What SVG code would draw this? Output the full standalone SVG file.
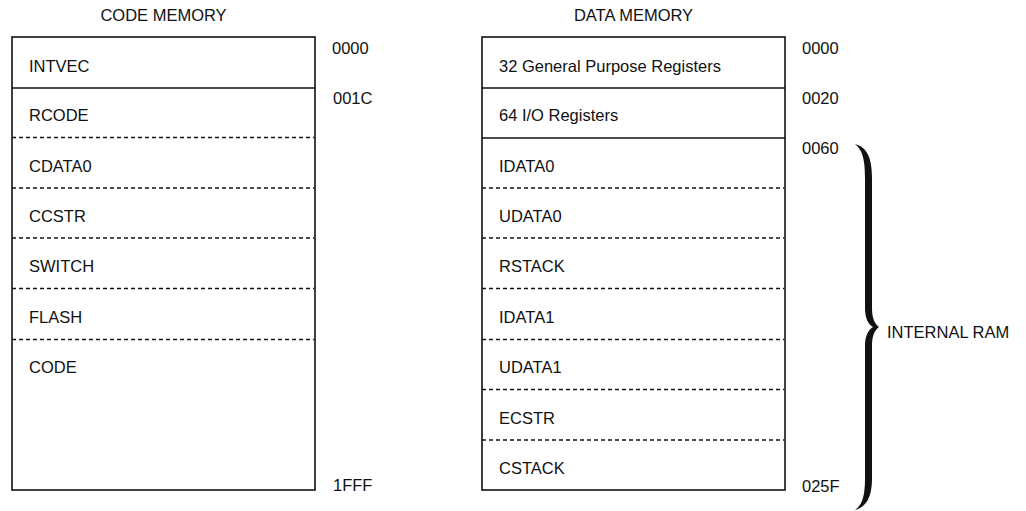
<svg xmlns="http://www.w3.org/2000/svg" width="1026" height="511" viewBox="0 0 1026 511">
<style>
text{font-family:"Liberation Sans",Arial,sans-serif;font-size:16.5px;fill:#111}
.box{fill:#fff;stroke:#111;stroke-width:1.6}
.solid{stroke:#111;stroke-width:1.4}
.dash{stroke:#111;stroke-width:1.4;stroke-dasharray:4 3}
.mid{text-anchor:middle}
</style>
<rect width="1026" height="511" fill="#fff"/>
<g id="code-memory">
<text class="mid" x="163.5" y="21">CODE MEMORY</text>
<rect class="box" x="12" y="37" width="303" height="453"/>
<line class="solid" x1="12" y1="88" x2="315" y2="88"/>
<line class="dash" x1="12" y1="137.5" x2="314" y2="137.5"/>
<line class="dash" x1="12" y1="188" x2="314" y2="188"/>
<line class="dash" x1="12" y1="238" x2="314" y2="238"/>
<line class="dash" x1="12" y1="288.5" x2="314" y2="288.5"/>
<line class="dash" x1="12" y1="339.5" x2="314" y2="339.5"/>
<text x="29" y="72">INTVEC</text>
<text x="29" y="121">RCODE</text>
<text x="29" y="172">CDATA0</text>
<text x="29" y="222">CCSTR</text>
<text x="29" y="272">SWITCH</text>
<text x="29" y="323">FLASH</text>
<text x="29" y="373">CODE</text>
<text x="332" y="54">0000</text>
<text x="333" y="104">001C</text>
<text x="333" y="491">1FFF</text>
</g>
<g id="data-memory">
<text class="mid" x="633.5" y="21">DATA MEMORY</text>
<rect class="box" x="482" y="37" width="303" height="453"/>
<line class="solid" x1="482" y1="88" x2="785" y2="88"/>
<line class="solid" x1="482" y1="138" x2="785" y2="138"/>
<line class="dash" x1="482" y1="188" x2="784" y2="188"/>
<line class="dash" x1="482" y1="238" x2="784" y2="238"/>
<line class="dash" x1="482" y1="288.5" x2="784" y2="288.5"/>
<line class="dash" x1="482" y1="339.5" x2="784" y2="339.5"/>
<line class="dash" x1="482" y1="389.5" x2="784" y2="389.5"/>
<line class="dash" x1="482" y1="440" x2="784" y2="440"/>
<text x="499" y="72">32 General Purpose Registers</text>
<text x="499" y="121">64 I/O Registers</text>
<text x="499" y="172">IDATA0</text>
<text x="499" y="222">UDATA0</text>
<text x="499" y="272">RSTACK</text>
<text x="499" y="323">IDATA1</text>
<text x="499" y="373">UDATA1</text>
<text x="499" y="424">ECSTR</text>
<text x="499" y="474">CSTACK</text>
<text x="802" y="54">0000</text>
<text x="802" y="104">0020</text>
<text x="802" y="154">0060</text>
<text x="802" y="492">025F</text>
</g>
<g id="internal-ram">
<path d="M855,144 C866,147 872,156 872,178 L872,308 C872,319 875,324 879,327 C875,330 872,335 872,346 L872,478 C872,498 866,507 855,510 C862,505 865,497 865,478 L865,346 C865,336 868,330 873,327 C868,324 865,318 865,308 L865,178 C865,158 862,150 855,144 Z" fill="#111"/>
<text x="887" y="338">INTERNAL RAM</text>
</g>
<g id="connectors"></g>
</svg>
